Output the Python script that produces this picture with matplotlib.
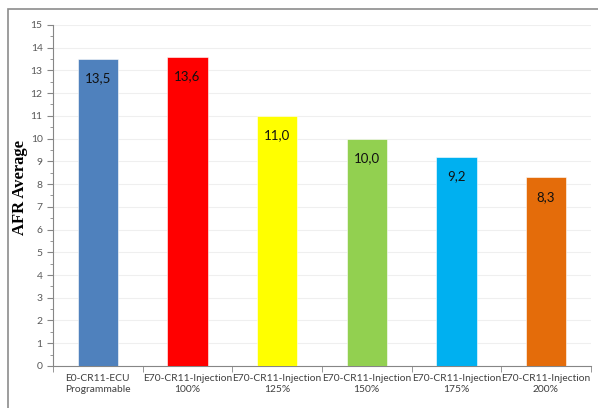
import numpy as np
import matplotlib.pyplot as plt
from matplotlib.patches import Rectangle

# data
categories = ["E0-CR11-ECU\nProgrammable", "E70-CR11-Injection\n100%", "E70-CR11-Injection\n125%",
              "E70-CR11-Injection\n150%", "E70-CR11-Injection\n175%", "E70-CR11-Injection\n200%"]
afr = [13.5, 13.6, 11.0, 10.0, 9.2, 8.3]
colors = ["#4F81BD", "#FF0000", "#FFFF00", "#92D050", "#00B0F0", "#E46C0A"]

fig = plt.figure(figsize=(5.98, 4.08), dpi=100)
ax = fig.add_axes([0.0886, 0.103, 0.8994, 0.836])

# border around the chart area
fig.patches.append(Rectangle((8/598, -0.05), 1.2, 1 - 9/408 + 0.05, transform=fig.transFigure,
                             fill=False, edgecolor="#8C8C8C", linewidth=1.2))

x = np.arange(len(categories))
bars = ax.bar(x, afr, width=0.45, color=colors, edgecolor="#FFFFFF", linewidth=0.4, zorder=3)

for b, v in zip(bars, afr):
    ax.annotate(f"{v:.1f}".replace(".", ","), (b.get_x() + b.get_width()/2, v),
                xytext=(0, -14), textcoords="offset points", ha="center", va="center",
                fontsize=9.5, family="Lato", color="#111111", zorder=4)

ax.set_xlim(-0.5, len(categories) - 0.5)
ax.set_ylim(0, 15)
ax.set_yticks(range(0, 16))
ax.set_yticks(np.arange(0.5, 15, 1), minor=True)
ax.yaxis.grid(True, color="#EFEFEF", linewidth=0.8, zorder=0)

ax.set_xticks(x)
ax.set_xticklabels(categories, fontsize=7.4, family="Lato", color="#404040")
ax.set_xticks(np.arange(-0.5, len(categories)), minor=True)
ax.tick_params(axis="x", which="major", length=0, pad=6)
ax.tick_params(axis="x", which="minor", length=4, color="#868686")
ax.tick_params(axis="y", which="major", length=4, color="#868686", labelsize=7.5, labelcolor="#595959")
ax.tick_params(axis="y", which="minor", length=2, color="#868686")
for lbl in ax.get_yticklabels():
    lbl.set_family("Lato")

for s in ["top", "right"]:
    ax.spines[s].set_visible(False)
for s in ["left", "bottom"]:
    ax.spines[s].set_color("#868686")

fig.text(20/598, 1 - 188/408, "AFR Average", rotation=90, ha="center", va="center",
         fontsize=12, fontweight="bold", family="Liberation Serif")

fig.savefig("out.png", dpi=100)
